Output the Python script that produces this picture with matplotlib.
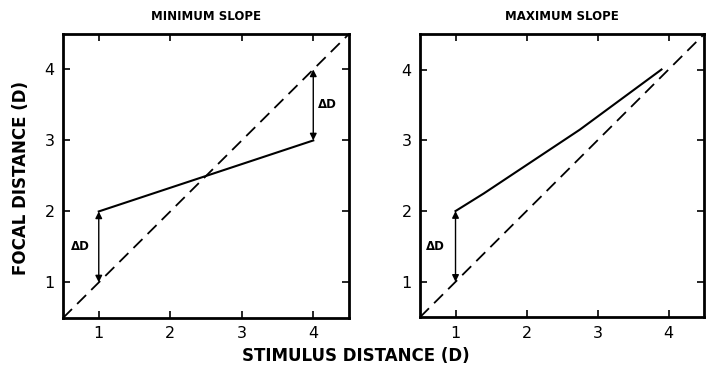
import numpy as np
import matplotlib.pyplot as plt

# Identity line (stimulus distance = focal distance)
ident = [0.5, 4.5]

# Minimum slope response
min_x = [1, 4]
min_y = [2, 3]

# Maximum slope response
max_x = [1, 1.4, 2.75, 3.9]
max_y = [2, 2.25, 3.15, 4.0]

ticks = [1, 2, 3, 4]

fig = plt.figure(figsize=(7.12, 3.71), dpi=100)
ax1 = fig.add_axes([0.0885, 0.143, 0.4017, 0.7655])
ax2 = fig.add_axes([0.5899, 0.145, 0.399, 0.763])


def style(ax, title):
    ax.set_xlim(0.5, 4.5)
    ax.set_ylim(0.5, 4.5)
    ax.set_xticks(ticks)
    ax.set_yticks(ticks)
    ax.tick_params(direction='in', top=True, right=True, length=5, width=1.2,
                   labelsize=11.5, pad=6)
    for s in ax.spines.values():
        s.set_linewidth(2)
    ax.set_title(title, fontsize=8.5, fontweight='bold', pad=10)
    ax.plot(ident, ident, 'k--', lw=1.3, dashes=(7, 4))


def delta(ax, x, y0, y1, tx, ty):
    ax.annotate('', xy=(x, y0), xytext=(x, y1),
                arrowprops=dict(arrowstyle='<|-|>', color='k', lw=1,
                                mutation_scale=10, shrinkA=0, shrinkB=0))
    ax.text(tx, ty, '\u0394D', fontsize=8.5, fontweight='bold',
            ha='center', va='center')


style(ax1, 'MINIMUM SLOPE')
ax1.plot(min_x, min_y, 'k-', lw=1.5)
delta(ax1, 1, 1, 2, 0.74, 1.5)
delta(ax1, 4, 3, 4, 4.2, 3.5)

style(ax2, 'MAXIMUM SLOPE')
ax2.plot(max_x, max_y, 'k-', lw=1.5)
delta(ax2, 1, 1, 2, 0.72, 1.5)

fig.text(0.03, 0.52, 'FOCAL DISTANCE (D)', rotation=90, fontsize=12,
         fontweight='bold', ha='center', va='center')
fig.text(0.5, 0.04, 'STIMULUS DISTANCE (D)', fontsize=12,
         fontweight='bold', ha='center', va='center')

plt.savefig('out.png', dpi=100)
